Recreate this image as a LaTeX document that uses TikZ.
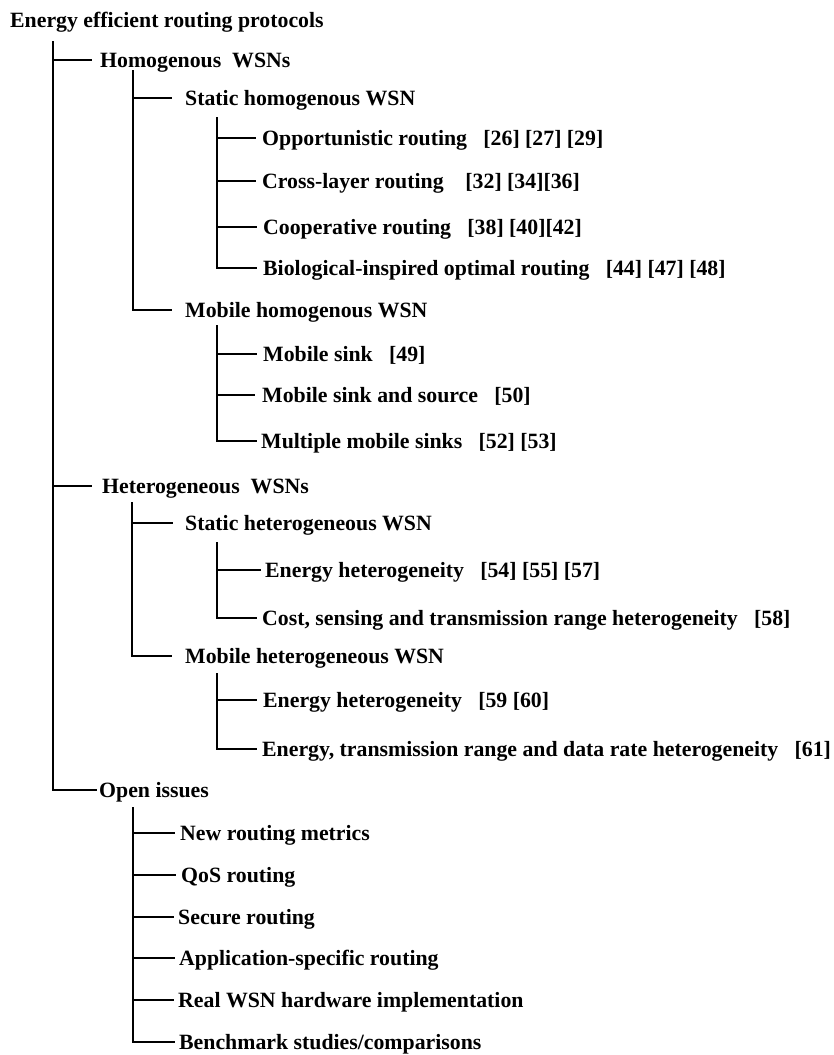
\documentclass[tikz,border=0pt]{standalone}
\usepackage{fontspec}
\setmainfont{Liberation Serif}
\begin{document}
\begin{tikzpicture}[x=1pt,y=-1pt,
  font=\fontsize{21.8}{24}\selectfont\bfseries,
  conn/.style={line width=1.6pt},
  item/.style={anchor=west, inner ysep=0pt, text height=14pt, text depth=0pt, inner xsep=#1},
  item/.default=6pt]
\useasboundingbox (0,0) rectangle (834,1055);
% root
\node[item=0pt] (root) at (10,20) {Energy efficient routing protocols};
\coordinate (v0) at (53,41);
% level 1
\node[item=8pt] (hom) at (92,60) {Homogenous~~WSNs};
\node[item=10pt] (het) at (92,486) {Heterogeneous~~WSNs};
\node[item=2pt] (open) at (97,790) {Open issues};
\draw[conn] (v0) |- (hom.west);
\draw[conn] (v0) |- (het.west);
\draw[conn] (v0) |- (open.west);
% homogenous
\coordinate (v1) at (133,70);
\node[item=13pt] (shom) at (172,98) {Static homogenous WSN};
\node[item=13pt] (mhom) at (172,310) {Mobile homogenous WSN};
\draw[conn] (v1) |- (shom.west);
\draw[conn] (v1) |- (mhom.west);
\coordinate (v2) at (217,117);
\node[item] (opp) at (256,138) {Opportunistic routing~~~[26] [27] [29]};
\node[item] (cross) at (256,181) {Cross-layer routing~~~~[32] [34][36]};
\node[item] (coop) at (257,227) {Cooperative routing~~~[38] [40][42]};
\node[item] (bio) at (257,268) {Biological-inspired optimal routing~~~[44] [47] [48]};
\foreach \n in {opp,cross,coop,bio} \draw[conn] (v2) |- (\n.west);
\coordinate (v3) at (217,325);
\node[item] (ms) at (257,354) {Mobile sink~~~[49]};
\node[item=7pt] (mss) at (255,395) {Mobile sink and source~~~[50]};
\node[item=4pt] (mms) at (257,441) {Multiple mobile sinks~~~[52] [53]};
\foreach \n in {ms,mss,mms} \draw[conn] (v3) |- (\n.west);
% heterogeneous
\coordinate (v4) at (132,502);
\node[item=12pt] (shet) at (173,523) {Static heterogeneous WSN};
\node[item=13pt] (mhet) at (172,656) {Mobile heterogeneous WSN};
\draw[conn] (v4) |- (shet.west);
\draw[conn] (v4) |- (mhet.west);
\coordinate (v5) at (217,542);
\node[item=4pt] (eh1) at (261,570) {Energy heterogeneity~~~[54] [55] [57]};
\node[item=5pt] (cost) at (257,618) {Cost, sensing and transmission range heterogeneity~~~[58]};
\foreach \n in {eh1,cost} \draw[conn] (v5) |- (\n.west);
\coordinate (v6) at (217,673);
\node[item=6pt] (eh2) at (257,700) {Energy heterogeneity~~~[59 [60]};
\node[item=5pt] (etr) at (257,749) {Energy, transmission range and data rate heterogeneity~~~[61]};
\foreach \n in {eh2,etr} \draw[conn] (v6) |- (\n.west);
% open issues
\coordinate (v7) at (133,807);
\node[item=5pt] (o1) at (175,833) {New routing metrics};
\node[item=5pt] (o2) at (176,875) {QoS routing};
\node[item=4pt] (o3) at (174,917) {Secure routing};
\node[item=4pt] (o4) at (175,958) {Application-specific routing};
\node[item=4pt] (o5) at (174,1000) {Real WSN hardware implementation};
\node[item=4pt] (o6) at (175,1042) {Benchmark studies/comparisons};
\foreach \n in {o1,o2,o3,o4,o5,o6} \draw[conn] (v7) |- (\n.west);
\end{tikzpicture}
\end{document}
